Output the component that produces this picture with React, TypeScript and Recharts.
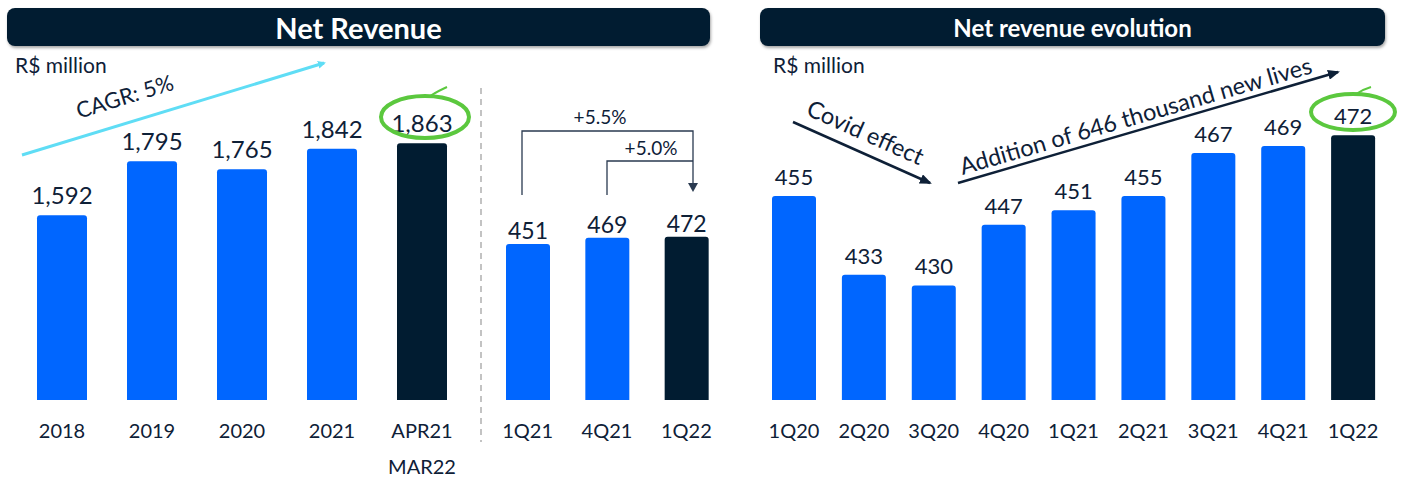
import { BarChart, Bar, XAxis, YAxis, LabelList, Cell } from 'recharts';

const annualLabels = ['2018', '2019', '2020', '2021', 'APR21\nMAR22'];
const annualValues = [1592, 1795, 1765, 1842, 1863];

const quarterLabels = ['1Q21', '4Q21', '1Q22'];
const quarterValues = [451, 469, 472];

const evolutionLabels = ['1Q20', '2Q20', '3Q20', '4Q20', '1Q21', '2Q21', '3Q21', '4Q21', '1Q22'];
const evolutionValues = [455, 433, 430, 447, 451, 455, 467, 469, 472];

const BLUE = '#0066FF';
const DARK = '#011C31';
const TEXT = '#0E2037';
const FONT = 'Lato, "Noto Sans", sans-serif';

const annualData = annualLabels.map((label, i) => ({ label, value: annualValues[i] }));
const quarterData = quarterLabels.map((label, i) => ({ label, value: quarterValues[i] }));
const evolutionData = evolutionLabels.map((label, i) => ({ label, value: evolutionValues[i] }));

const fmt = (v: number) => v.toLocaleString('en-US');

function Tick(props: any) {
  const { x, y, payload } = props;
  const lines = String(payload.value).split('\n');
  return (
    <text x={x} y={y} textAnchor="middle" fill={TEXT} fontSize={20} fontFamily={FONT}>
      {lines.map((l, i) => (
        <tspan key={i} x={x} y={y + 38 + i * 36}>{l}</tspan>
      ))}
    </text>
  );
}

function Panel({ data, left, width, marginLeft, marginRight, domain, barSize, labelSize, offset, lastDark }: any) {
  return (
    <div style={{ position: 'absolute', left, top: 0 }}>
      <BarChart width={width} height={477} data={data}
        margin={{ top: 60, right: marginRight, bottom: 0, left: marginLeft }}>
        <XAxis dataKey="label" axisLine={false} tickLine={false} tickSize={0} tickMargin={0}
          height={77} interval={0} tick={<Tick />} />
        <YAxis hide domain={domain} allowDataOverflow />
        <Bar dataKey="value" barSize={barSize} radius={[3, 3, 0, 0]} isAnimationActive={false}>
          {data.map((_: any, i: number) => (
            <Cell key={i} fill={lastDark && i === data.length - 1 ? DARK : BLUE} />
          ))}
          <LabelList dataKey="value" position="top" offset={offset} formatter={fmt as any}
            style={{ fill: TEXT, fontSize: labelSize, fontFamily: FONT }} />
        </Bar>
      </BarChart>
    </div>
  );
}

const titleStyle = (left: number, width: number, size: number, weight: number): any => ({
  position: 'absolute', left, top: 8, width, height: 38, background: DARK, borderRadius: 8,
  boxShadow: '1px 2px 3px rgba(0,0,0,0.35)', color: '#fff', fontFamily: FONT, fontSize: size,
  fontWeight: weight, display: 'flex', alignItems: 'center', justifyContent: 'center',
});

export default function App() {
  return (
    <div style={{ position: 'absolute', left: 0, top: 0, width: 1408, height: 477, background: '#fff', overflow: 'hidden' }}>
      <div style={titleStyle(7, 703, 29, 700)}>Net Revenue</div>
      <div style={titleStyle(760, 625, 24, 700)}>Net revenue evolution</div>
      <div style={{ position: 'absolute', left: 15, top: 52, fontFamily: FONT, fontSize: 21, color: TEXT }}>R$ million</div>
      <div style={{ position: 'absolute', left: 773, top: 52, fontFamily: FONT, fontSize: 21, color: TEXT }}>R$ million</div>

      <Panel data={annualData} left={0} width={480} marginLeft={17} marginRight={13}
        domain={[896, 2176]} barSize={50} labelSize={24} offset={11} lastDark />
      <Panel data={quarterData} left={480} width={250} marginLeft={8} marginRight={4}
        domain={[0, 983]} barSize={44} labelSize={23} offset={5} lastDark />
      <Panel data={evolutionData} left={750} width={650} marginLeft={9} marginRight={12}
        domain={[398, 493]} barSize={44} labelSize={22} offset={11} lastDark />

      <svg width={1408} height={477} style={{ position: 'absolute', left: 0, top: 0, pointerEvents: 'none' }}>
        <defs>
          <marker id="arrCyan" markerWidth="8" markerHeight="8" refX="6" refY="4" orient="auto" markerUnits="userSpaceOnUse">
            <path d="M0,0 L8,4 L0,8 Z" fill="#5FDDF5" />
          </marker>
          <marker id="arrDark" markerWidth="12" markerHeight="10" refX="10" refY="5" orient="auto" markerUnits="userSpaceOnUse">
            <path d="M0,0 L12,5 L0,10 Z" fill={TEXT} />
          </marker>
        </defs>
        <line x1={481} y1={88} x2={481} y2={442} stroke="#B0B0B0" strokeWidth={1.5} strokeDasharray="6 5" />

        <line x1={22} y1={155} x2={324} y2={63} stroke="#5FDDF5" strokeWidth={3} markerEnd="url(#arrCyan)" />
        <text x={127} y={104} fontSize={22} fill={TEXT} fontFamily={FONT} textAnchor="middle" transform="rotate(-17 127 104)">CAGR: 5%</text>

        <ellipse cx={425} cy={117} rx={44} ry={21} fill="none" stroke="#5BC83E" strokeWidth={4} />
        <path d="M430,96 Q440,90 447,87" fill="none" stroke="#5BC83E" strokeWidth={2} />
        <ellipse cx={1353} cy={112} rx={42} ry={18} fill="none" stroke="#5BC83E" strokeWidth={4} />
        <path d="M1356,94 Q1364,89 1371,87" fill="none" stroke="#5BC83E" strokeWidth={2} />

        <path d="M522,195 V131 H693 V190" fill="none" stroke="#2A3A50" strokeWidth={1.3} />
        <path d="M688,183 L698,183 L693,192 Z" fill="#2A3A50" />
        <path d="M607,195 V161 H693" fill="none" stroke="#2A3A50" strokeWidth={1.3} />
        <text x={600} y={124} fontSize={19} fill={TEXT} fontFamily={FONT} textAnchor="middle">+5.5%</text>
        <text x={651} y={155} fontSize={19} fill={TEXT} fontFamily={FONT} textAnchor="middle">+5.0%</text>

        <line x1={793} y1={122} x2={930} y2={183} stroke={TEXT} strokeWidth={2.5} markerEnd="url(#arrDark)" />
        <text x={862} y={140} fontSize={23.5} fill={TEXT} fontFamily={FONT} textAnchor="middle" transform="rotate(24 862 140)">Covid effect</text>
        <line x1={958} y1={183} x2={1338} y2={72} stroke={TEXT} strokeWidth={2.5} markerEnd="url(#arrDark)" />
        <text x={1138} y={124} fontSize={23.5} fill={TEXT} fontFamily={FONT} textAnchor="middle" transform="rotate(-16.2 1138 124)">Addition of 646 thousand new lives</text>
      </svg>
    </div>
  );
}
